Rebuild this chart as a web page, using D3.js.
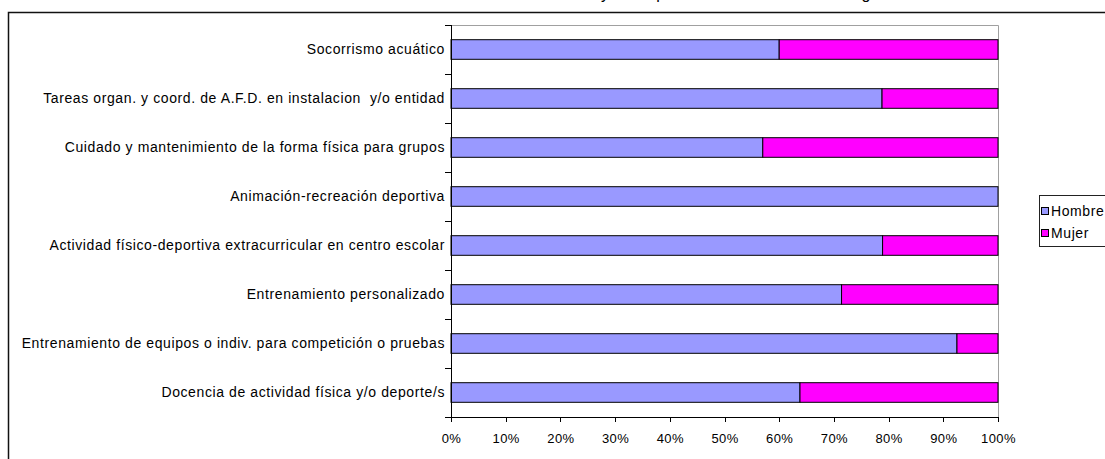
<!DOCTYPE html>
<html>
<head>
<meta charset="utf-8">
<script src="https://cdn.jsdelivr.net/npm/d3@7"></script>
<style>
  html, body { margin: 0; padding: 0; background: #fff; overflow: hidden; }
  svg { display: block; font-family: "Liberation Sans", Arial, sans-serif; }
</style>
</head>
<body>
<div id="chart"></div>
<script>
const categories = [
  "Socorrismo acuático",
  "Tareas organ. y coord. de A.F.D. en instalacion  y/o entidad",
  "Cuidado y mantenimiento de la forma física para grupos",
  "Animación-recreación deportiva",
  "Actividad físico-deportiva extracurricular en centro escolar",
  "Entrenamiento personalizado",
  "Entrenamiento de equipos o indiv. para competición o pruebas",
  "Docencia de actividad física y/o deporte/s"
];
const hombre = [60.0, 78.8, 57.0, 100, 78.9, 71.4, 92.5, 63.8];
const mujer  = [40.0, 21.2, 43.0, 0, 21.1, 28.6, 7.5, 36.2];
const seriesNames = ["Hombre", "Mujer"];
const seriesColors = ["#9999FF", "#FF00FF"];
const xTicks = [0, 10, 20, 30, 40, 50, 60, 70, 80, 90, 100];
const titleA = "Distribución del sexo";
const titleB = "y la ocupación del técnico titulado según";

const W = 1105, H = 459;
const svg = d3.select("#chart").append("svg").attr("width", W).attr("height", H);

// outer chart frame
svg.append("path").attr("d", "M1200,12.5H8.5V600")
  .attr("fill", "none").attr("stroke", "#111").attr("stroke-width", 1.5);

// title (cut off at top: only descenders visible)
svg.append("text").attr("x", 600).attr("y", -1).attr("text-anchor", "end")
  .attr("font-size", 16).text(titleA);
svg.append("text").attr("x", 601).attr("y", -1).attr("text-anchor", "start")
  .attr("font-size", 16).text(titleB);

const x = d3.scaleLinear().domain([0, 100]).range([451, 998]);
const y = d3.scaleBand().domain(categories).range([25, 417]).paddingInner(0.6).paddingOuter(0.3);

// plot area border (gray)
svg.append("path")
  .attr("d", `M${x(0)},${y.range()[0] + 0.5}H${x(100) + 0.5}V${y.range()[1]}`)
  .attr("fill", "none").attr("stroke", "#a0a0a0").attr("stroke-width", 1);

const table = categories.map((c, i) => ({ cat: c, Hombre: hombre[i], Mujer: mujer[i] }));
const stacked = d3.stack().keys(seriesNames)(table);

svg.append("g").selectAll("g").data(stacked).join("g")
  .attr("fill", (d, i) => seriesColors[i])
  .selectAll("rect").data(d => d.filter(p => p[1] - p[0] > 0)).join("rect")
  .attr("x", d => x(d[0]))
  .attr("y", d => y(d.data.cat))
  .attr("width", d => x(d[1]) - x(d[0]))
  .attr("height", y.bandwidth())
  .attr("stroke", "#000").attr("stroke-width", 1);

// y axis line + ticks at band boundaries
const bounds = d3.range(categories.length + 1).map(i => y.range()[0] + i * y.step());
const yAx = svg.append("g").attr("shape-rendering", "crispEdges");
yAx.append("line").attr("x1", x(0)).attr("x2", x(0)).attr("y1", y.range()[0]).attr("y2", y.range()[1])
  .attr("stroke", "#000");
yAx.selectAll("line.t").data(bounds).join("line").attr("class", "t")
  .attr("x1", x(0) - 6).attr("x2", x(0)).attr("y1", d => d).attr("y2", d => d).attr("stroke", "#000");

// category labels
svg.append("g").selectAll("text").data(categories).join("text")
  .attr("x", 445)
  .attr("y", d => y(d) + y.bandwidth() / 2)
  .attr("dy", "0.35em")
  .attr("text-anchor", "end")
  .attr("font-size", 14)
  .attr("letter-spacing", 0.6)
  .style("white-space", "pre")
  .attr("fill", "#000")
  .text(d => d);

// x axis
const xAxis = d3.axisBottom(x).tickValues(xTicks).tickFormat(d => d + "%").tickSize(5).tickPadding(12);
const gx = svg.append("g").attr("transform", `translate(0,${y.range()[1]})`).call(xAxis);
gx.select(".domain").attr("stroke", "#000").attr("shape-rendering", "crispEdges");
gx.selectAll(".tick line").attr("stroke", "#000").attr("shape-rendering", "crispEdges");
gx.selectAll(".tick text").attr("font-size", 13).attr("fill", "#000")
  .attr("letter-spacing", 0.4)
  .attr("font-family", "Liberation Sans, Arial, sans-serif");

// legend
const lg = svg.append("g");
lg.append("rect").attr("x", 1039.5).attr("y", 195.5).attr("width", 100).attr("height", 51)
  .attr("fill", "#fff").attr("stroke", "#222").attr("stroke-width", 1);
const li = lg.selectAll("g.item").data(seriesNames).join("g").attr("class", "item")
  .attr("transform", (d, i) => `translate(1041,${207 + i * 22})`);
li.append("rect").attr("x", 0.5).attr("y", 0.5).attr("width", 7).attr("height", 7)
  .attr("fill", (d, i) => seriesColors[i]).attr("stroke", "#000");
li.append("text").attr("x", 10).attr("y", 4).attr("dy", "0.35em").attr("font-size", 14)
  .attr("letter-spacing", 0.6)
  .attr("fill", "#000").text(d => d);
</script>
</body>
</html>
